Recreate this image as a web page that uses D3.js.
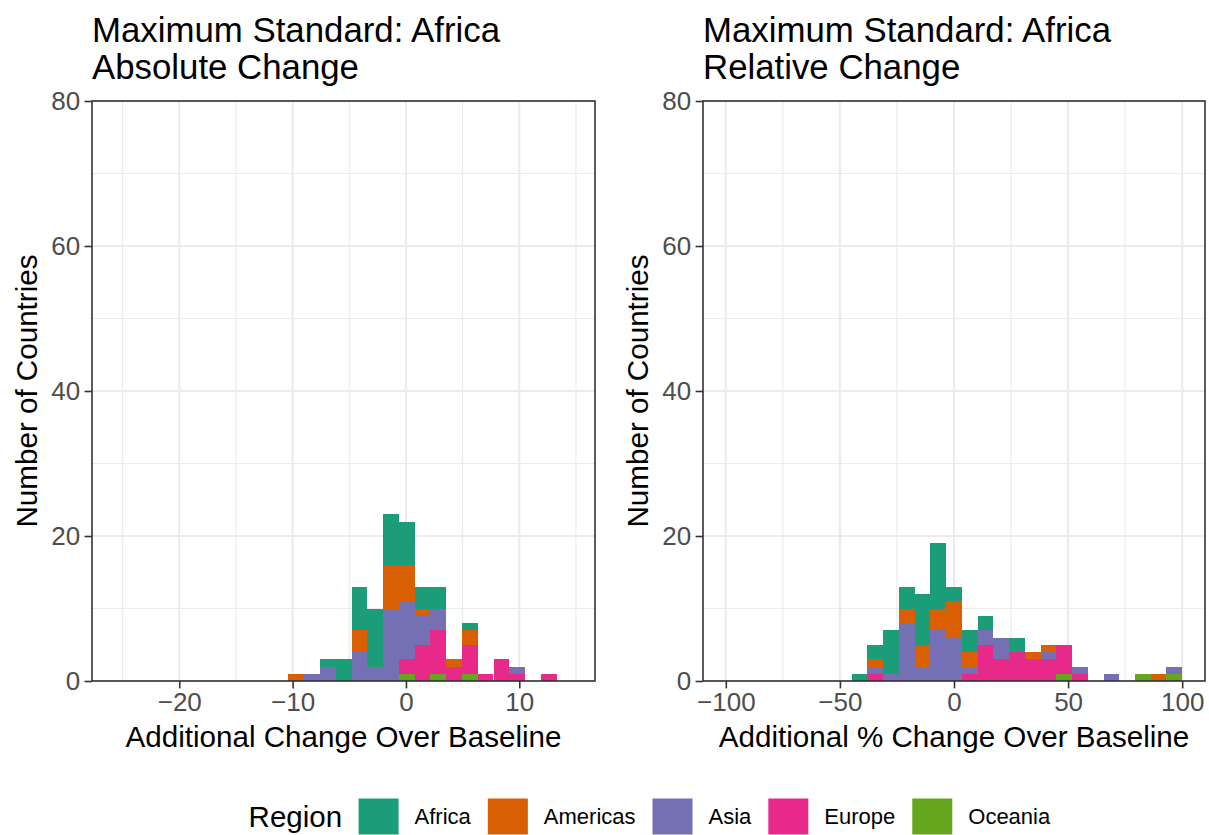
<!DOCTYPE html>
<html>
<head>
<meta charset="utf-8">
<script src="https://cdn.jsdelivr.net/npm/d3@7"></script>
<style>
  html, body { margin: 0; padding: 0; background: #fff; }
  svg { display: block; font-family: "Liberation Sans", Arial, Helvetica, sans-serif; }
</style>
</head>
<body>
<svg id="chart" width="1209" height="835"></svg>
<script>
// ---------------- DATA ----------------
const regions = ["Africa", "Americas", "Asia", "Europe", "Oceania"];
const regionColors = ["#1B9E77", "#D95F02", "#7570B3", "#E7298A", "#66A61E"];

// Absolute change histogram (bin lower edges, bin width, counts per region)
const absBinLeft = [-10.37, -8.98, -7.59, -6.19, -4.80, -3.41, -2.02, -0.63, 0.77,
                    2.16, 3.55, 4.94, 6.33, 7.73, 9.12, 10.51, 11.90];
const absBinWidth = 1.392;
const absAfrica   = [0, 0, 1, 3, 6, 8, 7, 6, 3, 3, 0, 1, 0, 0, 0, 0, 0];
const absAmericas = [1, 0, 0, 0, 3, 0, 6, 5, 1, 0, 1, 2, 0, 0, 0, 0, 0];
const absAsia     = [0, 1, 2, 0, 4, 2, 10, 8, 4, 3, 0, 0, 0, 0, 1, 0, 0];
const absEurope   = [0, 0, 0, 0, 0, 0, 0, 2, 5, 6, 2, 4, 1, 3, 1, 0, 1];
const absOceania  = [0, 0, 0, 0, 0, 0, 0, 1, 0, 1, 0, 1, 0, 0, 0, 0, 0];

// Relative (%) change histogram
const relBinLeft = [-44.83, -37.93, -31.03, -24.14, -17.24, -10.34, -3.45, 3.45, 10.34,
                    17.24, 24.14, 31.03, 37.93, 44.83, 51.72, 58.62, 65.52, 72.41,
                    79.31, 86.21, 93.10];
const relBinWidth = 6.897;
const relAfrica   = [1, 2, 6, 3, 7, 9, 2, 3, 2, 0, 2, 0, 0, 0, 0, 0, 0, 0, 0, 0, 0];
const relAmericas = [0, 1, 0, 2, 3, 3, 5, 2, 0, 0, 0, 1, 1, 0, 0, 0, 0, 0, 0, 1, 0];
const relAsia     = [0, 1, 1, 8, 2, 7, 6, 1, 2, 3, 0, 0, 1, 0, 1, 0, 1, 0, 0, 0, 1];
const relEurope   = [0, 1, 0, 0, 0, 0, 0, 1, 5, 3, 4, 3, 3, 4, 1, 0, 0, 0, 0, 0, 0];
const relOceania  = [0, 0, 0, 0, 0, 0, 0, 0, 0, 0, 0, 0, 0, 1, 0, 0, 0, 0, 1, 0, 1];

// Axes
const yTicks = [0, 20, 40, 60, 80];
const yMinor = [10, 30, 50, 70];
const absXTicks = [-20, -10, 0, 10];
const absXMinor = [-25, -15, -5, 5, 15];
const relXTicks = [-100, -50, 0, 50, 100];
const relXMinor = [-75, -25, 25, 75];

const panels = [
  {
    title: ["Maximum Standard: Africa", "Absolute Change"],
    xLabel: "Additional Change Over Baseline",
    yLabel: "Number of Countries",
    binLeft: absBinLeft, binWidth: absBinWidth,
    series: [absAfrica, absAmericas, absAsia, absEurope, absOceania],
    xDomain: [-27.7, 16.68], xTicks: absXTicks, xMinor: absXMinor,
    left: 92, right: 595
  },
  {
    title: ["Maximum Standard: Africa", "Relative Change"],
    xLabel: "Additional % Change Over Baseline",
    yLabel: "Number of Countries",
    binLeft: relBinLeft, binWidth: relBinWidth,
    series: [relAfrica, relAmericas, relAsia, relEurope, relOceania],
    xDomain: [-110, 110], xTicks: relXTicks, xMinor: relXMinor,
    left: 703, right: 1205
  }
];

// ---------------- DRAW ----------------
const svg = d3.select("#chart");
const panelTop = 101, panelBottom = 681;
const color = d3.scaleOrdinal().domain(regions).range(regionColors);
const fmt = v => (v < 0 ? "\u2212" + Math.abs(v) : String(v));

panels.forEach(p => {
  const x = d3.scaleLinear().domain(p.xDomain).range([p.left, p.right]);
  const y = d3.scaleLinear().domain([0, 80]).range([panelBottom, panelTop]);
  const g = svg.append("g");

  g.append("rect").attr("x", p.left).attr("y", panelTop)
    .attr("width", p.right - p.left).attr("height", panelBottom - panelTop).attr("fill", "#fff");

  // minor grid
  g.selectAll(null).data(yMinor).enter().append("line")
    .attr("x1", p.left).attr("x2", p.right).attr("y1", d => y(d)).attr("y2", d => y(d))
    .attr("stroke", "#EBEBEB").attr("stroke-width", 1.1);
  g.selectAll(null).data(p.xMinor).enter().append("line")
    .attr("x1", d => x(d)).attr("x2", d => x(d)).attr("y1", panelTop).attr("y2", panelBottom)
    .attr("stroke", "#EBEBEB").attr("stroke-width", 1.1);
  // major grid
  g.selectAll(null).data(yTicks).enter().append("line")
    .attr("x1", p.left).attr("x2", p.right).attr("y1", d => y(d)).attr("y2", d => y(d))
    .attr("stroke", "#EBEBEB").attr("stroke-width", 2.1);
  g.selectAll(null).data(p.xTicks).enter().append("line")
    .attr("x1", d => x(d)).attr("x2", d => x(d)).attr("y1", panelTop).attr("y2", panelBottom)
    .attr("stroke", "#EBEBEB").attr("stroke-width", 2.1);

  // stacked bars: bottom Oceania, then Europe, Asia, Americas, Africa on top
  const rows = p.binLeft.map((b, i) => {
    const r = { left: b };
    regions.forEach((reg, j) => { r[reg] = p.series[j][i]; });
    return r;
  });
  const stack = d3.stack().keys(regions.slice().reverse());
  const layers = stack(rows);
  layers.forEach(layer => {
    g.selectAll(null).data(layer.filter(d => d[1] > d[0])).enter().append("rect")
      .attr("x", d => x(d.data.left))
      .attr("width", d => x(d.data.left + p.binWidth) - x(d.data.left))
      .attr("y", d => y(d[1]))
      .attr("height", d => y(d[0]) - y(d[1]))
      .attr("fill", color(layer.key))
      .attr("shape-rendering", "crispEdges");
  });

  // panel border
  g.append("rect").attr("x", p.left).attr("y", panelTop)
    .attr("width", p.right - p.left).attr("height", panelBottom - panelTop)
    .attr("fill", "none").attr("stroke", "#333333").attr("stroke-width", 1.6);

  // y axis
  const yAxis = d3.axisLeft(y).tickValues(yTicks).tickSize(7.4).tickPadding(4.5).tickFormat(fmt);
  const ya = g.append("g").attr("transform", `translate(${p.left},0)`).call(yAxis);
  ya.select(".domain").remove();
  ya.selectAll("line").attr("stroke", "#333333").attr("stroke-width", 1.6);
  ya.selectAll("text").attr("fill", "#4D4D4D").style("font-size", "26px")
    .style("font-family", "'Liberation Sans', Arial, sans-serif");

  // x axis
  const xAxis = d3.axisBottom(x).tickValues(p.xTicks).tickSize(7.4).tickPadding(4.5).tickFormat(fmt);
  const xa = g.append("g").attr("transform", `translate(0,${panelBottom})`).call(xAxis);
  xa.select(".domain").remove();
  xa.selectAll("line").attr("stroke", "#333333").attr("stroke-width", 1.6);
  xa.selectAll("text").attr("fill", "#4D4D4D").style("font-size", "26px")
    .style("font-family", "'Liberation Sans', Arial, sans-serif");

  // titles
  const t = g.append("text").attr("x", p.left).attr("fill", "#000").style("font-size", "34.8px");
  t.append("tspan").attr("x", p.left).attr("y", 42).text(p.title[0]);
  t.append("tspan").attr("x", p.left).attr("y", 79).text(p.title[1]);

  g.append("text").attr("x", (p.left + p.right) / 2).attr("y", 747)
    .attr("text-anchor", "middle").style("font-size", "29.6px").attr("fill", "#000")
    .text(p.xLabel);

  g.append("text")
    .attr("transform", `translate(${p.left - 55},${(panelTop + panelBottom) / 2}) rotate(-90)`)
    .attr("text-anchor", "middle").style("font-size", "29.6px").attr("fill", "#000")
    .text(p.yLabel);
});

// legend
const lg = svg.append("g");
const legY = 816.5;
let cx = 248.6;
const lt = lg.append("text").attr("x", cx).attr("y", legY).attr("dy", "0.35em")
  .style("font-size", "29.5px").attr("fill", "#000").text("Region");
cx = cx + lt.node().getComputedTextLength() + 16.5;
regions.forEach((reg) => {
  lg.append("rect").attr("x", cx).attr("y", legY - 18).attr("width", 40).attr("height", 36)
    .attr("fill", color(reg));
  cx += 40 + 16;
  const tx = lg.append("text").attr("x", cx).attr("y", legY).attr("dy", "0.35em")
    .style("font-size", "22px").attr("fill", "#000").text(reg);
  cx += tx.node().getComputedTextLength() + 17;
});
</script>
</body>
</html>
